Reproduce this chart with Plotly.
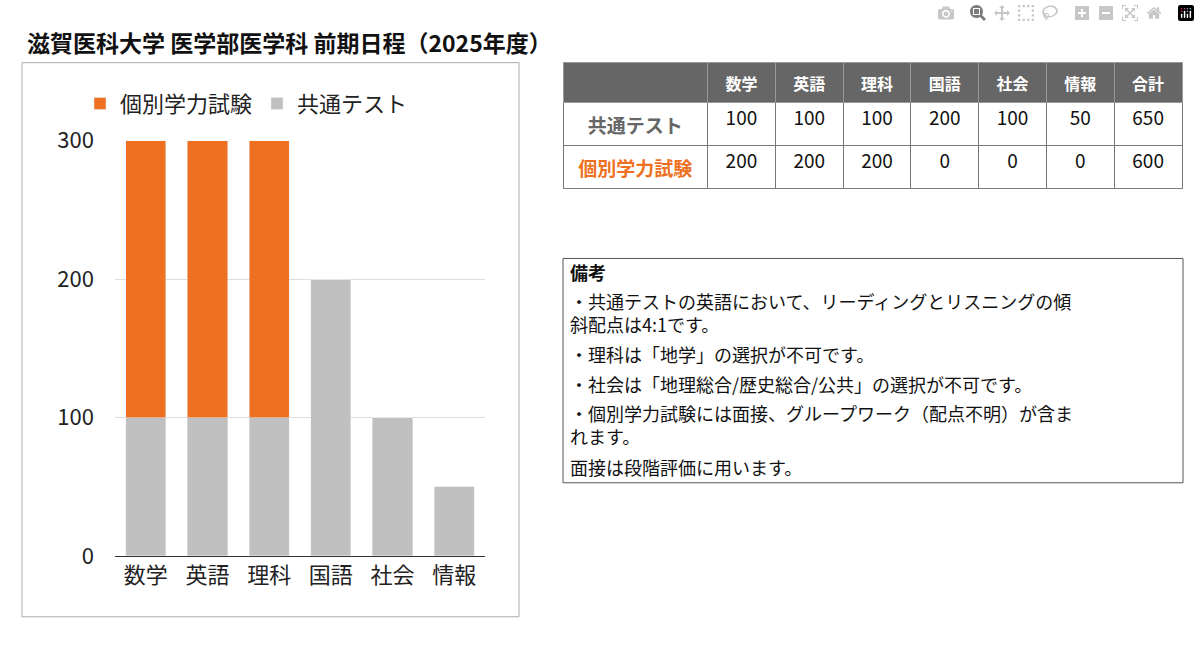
import plotly.graph_objects as go

subjects = ["数学", "英語", "理科", "国語", "社会", "情報"]
common = [100, 100, 100, 200, 100, 50]
individual = [200, 200, 200, 0, 0, 0]
totals = [300, 300, 300, 200, 100, 50]
header = ["", "数学", "英語", "理科", "国語", "社会", "情報", "合計"]
row_labels = ["共通テスト", "個別学力試験", "教科合計配点"]
notes = ["備考",
         "・共通テストの英語において、リーディングとリスニングの傾",
         "斜配点は4:1です。",
         "・理科は「地学」の選択が不可です。",
         "・社会は「地理総合/歴史総合/公共」の選択が不可です。",
         "・個別学力試験には面接、グループワーク（配点不明）が含ま",
         "れます。",
         "面接は段階評価に用います。"]
note_y = [267, 298, 322, 354, 385, 416, 440, 472]

ORANGE = "#ee7020"
GRAY = "#c0c0c0"
FONT = "Noto Sans CJK JP"
W, H = 1200, 646
px = lambda x: x / W
py = lambda y: 1 - y / H

fig = go.Figure()
fig.add_bar(x=subjects, y=common, name="共通テスト", marker_color=GRAY)
fig.add_bar(x=subjects, y=individual, name="個別学力試験", marker_color=ORANGE)

rows = [["<b>%s</b>" % r for r in row_labels]]
for i in range(len(subjects)):
    rows.append([common[i], individual[i], totals[i]])
rows.append([sum(common), sum(individual), sum(totals)])
label_colors = ["#666666", ORANGE, "#111111"]
fig.add_trace(go.Table(
    domain=dict(x=[px(563), px(1183)], y=[py(180), py(47)]),
    columnwidth=[145] + [68] * 7,
    header=dict(values=["<b>%s</b>" % h for h in header], fill_color="#666666", height=28,
                font=dict(color="white", size=16, family=FONT),
                line=dict(color="#999999", width=1), align="center"),
    cells=dict(values=rows, fill_color="white", height=34,
               font=dict(color=[label_colors] + [["#111111"] * 3] * 7, size=19, family=FONT),
               line=dict(color="#777777", width=1), align="center"),
))

fig.update_layout(
    width=W, height=H, margin=dict(l=0, r=0, t=0, b=0),
    paper_bgcolor="white", plot_bgcolor="white",
    barmode="stack", bargap=0.35,
    font=dict(family=FONT, color="#222222"),
    xaxis=dict(domain=[px(115), px(485)], tickfont=dict(size=22), showline=True,
               linecolor="#333333", linewidth=1, ticks=""),
    yaxis=dict(domain=[py(566), py(129)], range=[0, 300], tickvals=[0, 100, 200, 300],
               tickfont=dict(size=22), gridcolor="#dddddd", showline=False, zeroline=False,
               ticklabelstandoff=20),
    legend=dict(orientation="h", x=px(80), y=py(68), xanchor="left", yanchor="top",
                font=dict(size=22), traceorder="reversed"),
    shapes=[
        dict(type="rect", xref="paper", yref="paper", x0=px(22), x1=px(519), y0=py(630), y1=py(47),
             line=dict(color="#aaaaaa", width=1)),
        dict(type="rect", xref="paper", yref="paper", x0=px(563), x1=px(1183), y0=py(489), y1=py(253),
             line=dict(color="#555555", width=1)),
    ],
)
fig.add_annotation(text="<b>滋賀医科大学 医学部医学科 前期日程（2025年度）</b>", xref="paper", yref="paper",
                   x=px(25), y=py(25), xanchor="left", yanchor="middle", showarrow=False,
                   font=dict(size=23, color="#111111"))
for i, (t, y) in enumerate(zip(notes, note_y)):
    fig.add_annotation(text=("<b>%s</b>" % t) if i == 0 else t, xref="paper", yref="paper",
                       x=px(568), y=py(y), xanchor="left", yanchor="middle", showarrow=False,
                       font=dict(size=18, color="#111111"))

post = ("document.body.style.margin='0';document.body.style.overflow='hidden';"
        "document.documentElement.style.overflow='hidden';")
fig.write_html("out.html", post_script=post)
